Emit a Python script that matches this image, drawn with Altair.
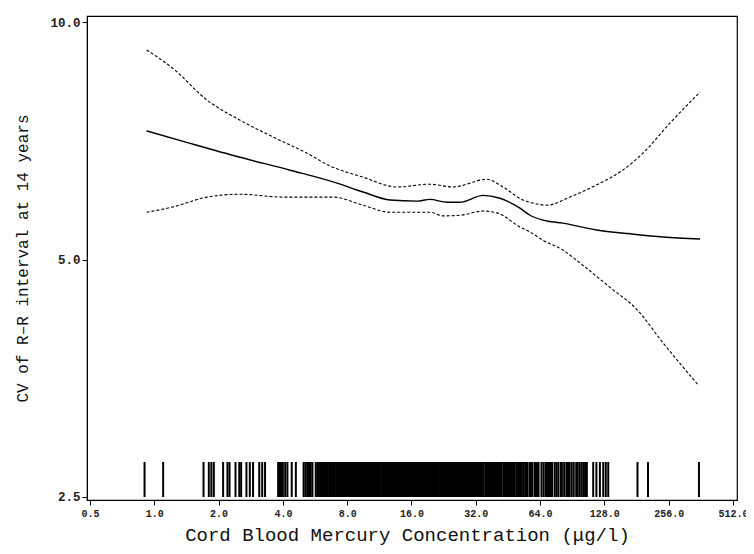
import altair as alt
import pandas as pd

# --- data ---
center_x = [0.92, 1.47, 2.52, 4.32, 7.17, 9.49, 12.7, 17.0, 19.5, 23.5, 27.0, 34.6, 41.5, 51.5, 57.4, 66.0, 81.9, 118, 169, 241, 359]
center_y = [7.28, 7.02, 6.74, 6.49, 6.25, 6.09, 5.95, 5.93, 5.96, 5.91, 5.91, 6.03, 5.98, 5.81, 5.69, 5.61, 5.56, 5.45, 5.39, 5.34, 5.31]

upper_x = [0.92, 1.22, 1.77, 2.52, 3.60, 5.19, 6.65, 9.49, 13.7, 19.5, 25.0, 36.1, 42.9, 53.2, 57.4, 68.9, 88.3, 118, 156, 194, 260, 359]
upper_y = [9.22, 8.74, 7.96, 7.51, 7.15, 6.82, 6.57, 6.36, 6.18, 6.23, 6.18, 6.32, 6.18, 5.95, 5.91, 5.86, 6.00, 6.22, 6.49, 6.82, 7.45, 8.15]

lower_x = [0.92, 1.22, 1.77, 2.52, 4.0, 6.86, 9.49, 12.7, 19.5, 22.5, 27.0, 34.6, 40.2, 51.5, 57.4, 66.0, 81.9, 98.4, 136, 182, 241, 351]
lower_y = [5.74, 5.83, 6.00, 6.05, 6.00, 6.00, 5.86, 5.74, 5.74, 5.68, 5.69, 5.76, 5.73, 5.50, 5.42, 5.29, 5.14, 4.95, 4.61, 4.32, 3.92, 3.47]

rug = [
    0.9, 1.1,
    1.7, 1.8, 1.85, 1.9, 2.1, 2.2, 2.25, 2.4, 2.5, 2.55, 2.7, 2.8, 2.9, 3.1, 3.2, 3.3,
    3.8, 3.85, 3.9, 3.95, 4.0, 4.1, 4.2, 4.4, 4.6,
    5.0, 5.1, 5.2, 5.3, 5.4, 5.5,
    5.7, 5.8, 5.9, 6.0, 6.1, 6.2, 6.3, 6.4, 6.5, 6.6, 6.7, 6.8, 6.9, 7.0, 7.1, 7.2, 7.3, 7.4,
    7.5, 7.55, 7.6, 7.7, 7.75, 7.8, 7.9, 7.95, 8.0, 8.1, 8.15, 8.2, 8.3, 8.35, 8.4, 8.5, 8.55,
    8.6, 8.7, 8.75, 8.8, 8.9, 8.95, 9.0, 9.1, 9.15, 9.2, 9.3, 9.35, 9.4, 9.5, 9.55, 9.6, 9.7,
    9.75, 9.8, 9.9, 9.95,
    10.0, 10.05, 10.1, 10.2, 10.25, 10.3, 10.4, 10.45, 10.5, 10.6, 10.65, 10.7,
    10.9, 11.0, 11.05, 11.1, 11.2, 11.25, 11.3, 11.4, 11.45, 11.5,
    11.7, 11.8, 11.9, 12.0, 12.1, 12.2, 12.3, 12.4, 12.5, 12.6, 12.7, 12.8, 12.9, 13.0, 13.1,
    13.2, 13.3, 13.4, 13.5, 13.6, 13.7, 13.8, 13.9, 14.0, 14.1, 14.2, 14.3, 14.4, 14.5, 14.6,
    14.7, 14.8,
    15.0, 15.1, 15.2, 15.3, 15.4, 15.5, 15.6,
    15.8, 15.9, 16.0, 16.1, 16.2, 16.3, 16.4, 16.5, 16.6, 16.7, 16.8, 16.9,
    17.1, 17.2, 17.3, 17.5, 17.6, 17.7, 17.9, 18.0, 18.1, 18.3, 18.4, 18.5, 18.7, 18.8, 18.9,
    19.1, 19.2, 19.3, 19.5, 19.6, 19.7, 19.9, 20.0,
    20.1, 20.3, 20.4, 20.5, 20.7, 20.8, 20.9, 21.1, 21.2, 21.3, 21.5,
    21.8, 22.0, 22.2, 22.4, 22.6, 22.8, 23.0, 23.2, 23.4, 23.6, 23.8, 24.0, 24.2, 24.4, 24.6,
    24.8, 25.0, 25.2, 25.4, 25.6, 25.8, 26.0, 26.2, 26.4, 26.6, 26.8, 27.0, 27.2, 27.4, 27.6,
    27.8, 28.0,
    28.3, 28.6, 28.9, 29.2, 29.5, 29.8, 30.1, 30.4, 30.7, 31.0, 31.3, 31.6, 31.9, 32.2, 32.5,
    32.8, 33.1, 33.4, 33.7, 34.0, 34.3, 34.6,
    35.4, 35.7, 36.0, 36.3, 36.6, 36.9, 37.2, 37.5, 37.8, 38.1, 38.4, 38.7, 39.0, 39.3, 39.6,
    39.9, 40.2, 40.5, 40.8, 41.1, 41.4, 41.7, 42.0,
    43.0, 43.4, 43.8, 44.2, 44.6, 45.0, 45.4, 45.8, 46.2, 46.6, 47.0, 47.4, 47.8, 48.2, 48.6,
    49.5, 50.3, 51.0, 52.0, 52.6, 53.5, 54.5, 55.2, 56.0, 57.4, 58.0, 59.0, 60.5, 61.2, 62.0, 63.0,
    65.0, 66.5, 68.0, 69.0, 70.5, 72.0, 73.0, 75.0, 76.5, 78.0, 80.0, 81.0, 83.0, 85.0, 86.5,
    88.0, 90.0, 92.0, 94.5, 96.0, 98.0,
    100.0, 102.0, 104.0, 106.0,
    113.5, 117.5, 122.0, 126.5, 130.0, 133.5,
    183.0, 205.0, 355.0,
]

x_ticks = [0.5, 1, 2, 4, 8, 16, 32, 64, 128, 256, 512]
y_ticks = [2.5, 5, 10]

x_title = "Cord Blood  Mercury Concentration (\u03bcg/l)"
y_title = "CV of R\u2013R interval at 14 years"

# --- chart ---
x_scale = alt.Scale(type="log", base=2, domain=[0.484, 535], nice=False)
y_scale = alt.Scale(type="log", base=2, domain=[2.478, 10.18], nice=False)

x_axis = alt.Axis(
    values=x_ticks, format=".1f", title=x_title, grid=False,
    tickSize=5, tickColor="black", domainColor="black",
    labelFont="Liberation Mono", labelFontWeight="bold", labelFontSize=10,
    labelColor="#222", labelPadding=3,
    titleFont="Liberation Mono", titleFontSize=19, titleFontWeight="normal",
    titleColor="#111", titlePadding=7, titleX=320, titleAlign="center",
)
y_axis = alt.Axis(
    values=y_ticks, format=".1f", title=y_title, grid=False,
    tickSize=5, tickColor="black", domainColor="black",
    labelFont="Liberation Mono", labelFontWeight="bold", labelFontSize=12.5,
    labelColor="#222", labelPadding=2,
    titleFont="Liberation Mono", titleFontSize=16, titleFontWeight="normal",
    titleColor="#111", titlePadding=19,
)

df_c = pd.DataFrame({"x": center_x, "y": center_y})
df_u = pd.DataFrame({"x": upper_x, "y": upper_y})
df_l = pd.DataFrame({"x": lower_x, "y": lower_y})
df_r = pd.DataFrame({"x": rug})

center = alt.Chart(df_c).mark_line(color="black", strokeWidth=1.4, interpolate="monotone").encode(
    x=alt.X("x:Q", scale=x_scale, axis=x_axis),
    y=alt.Y("y:Q", scale=y_scale, axis=y_axis),
)
upper = alt.Chart(df_u).mark_line(color="black", strokeWidth=1.1, strokeDash=[3, 2], interpolate="monotone").encode(
    x=alt.X("x:Q", scale=x_scale),
    y=alt.Y("y:Q", scale=y_scale),
)
lower = alt.Chart(df_l).mark_line(color="black", strokeWidth=1.1, strokeDash=[3, 2], interpolate="monotone").encode(
    x=alt.X("x:Q", scale=x_scale),
    y=alt.Y("y:Q", scale=y_scale),
)
rugs = alt.Chart(df_r).mark_rule(color="black", strokeWidth=2).encode(
    x=alt.X("x:Q", scale=x_scale),
    y=alt.value(446),
    y2=alt.value(481),
)

chart = alt.layer(rugs, upper, lower, center).properties(
    width=650, height=484,
    autosize=alt.AutoSizeParams(type="none"),
    padding={"left": 79, "top": 8, "right": 9, "bottom": 46},
    background="white",
).configure_view(stroke="black", strokeWidth=1.2)

chart.save("out.html", embed_options={"renderer": "svg", "actions": False})
